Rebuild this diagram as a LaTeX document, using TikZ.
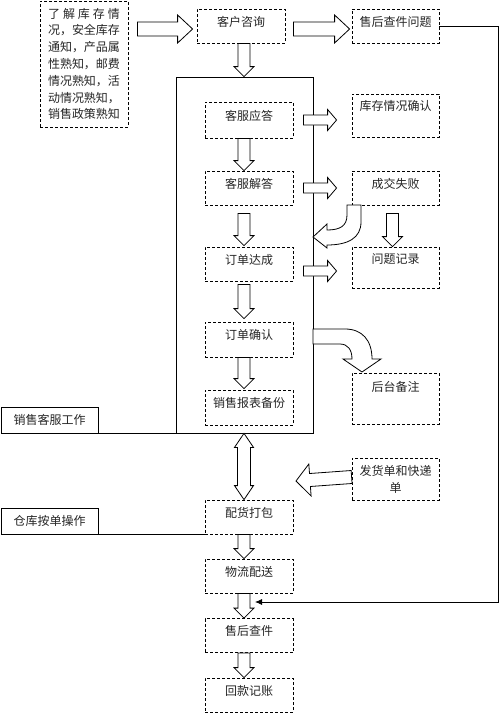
\documentclass[tikz,border=0pt]{standalone}
\usepackage{fontspec}
\newfontfamily\cjk{Noto Sans CJK SC}
\usetikzlibrary{calc,arrows.meta}

\begin{document}
\begin{tikzpicture}[x=1pt,y=-1pt,
    every node/.style={font=\cjk\fontsize{12}{16.8}\selectfont, text=black!85},
    box/.style={draw, line width=0.8pt, inner sep=0pt, minimum width=88pt, minimum height=34pt},
    dbox/.style={box, dash pattern=on 3pt off 2pt, text height=17pt, text depth=17pt},
    blk/.style n args={3}{draw, fill=white, line width=0.8pt,
        to path={let \p1=($(\tikztotarget)!#3!(\tikztostart)$) in
            ($(\tikztostart)!#1!90:(\tikztotarget)$) -- ($(\p1)!#1!-90:(\tikztostart)$)
            -- ($(\p1)!#2!-90:(\tikztostart)$) -- (\tikztotarget)
            -- ($(\p1)!#2!90:(\tikztostart)$) -- ($(\p1)!#1!90:(\tikztostart)$)
            -- ($(\tikztostart)!#1!-90:(\tikztotarget)$) -- cycle}},
    dbl/.style n args={3}{draw, fill=white, line width=0.8pt,
        to path={let \p1=($(\tikztotarget)!#3!(\tikztostart)$), \p2=($(\tikztostart)!#3!(\tikztotarget)$) in
            (\tikztostart) -- ($(\p2)!#2!90:(\tikztotarget)$) -- ($(\p2)!#1!90:(\tikztotarget)$)
            -- ($(\p1)!#1!-90:(\tikztostart)$) -- ($(\p1)!#2!-90:(\tikztostart)$) -- (\tikztotarget)
            -- ($(\p1)!#2!90:(\tikztostart)$) -- ($(\p1)!#1!90:(\tikztostart)$)
            -- ($(\p2)!#1!-90:(\tikztotarget)$) -- ($(\p2)!#2!-90:(\tikztotarget)$) -- cycle}},
    big/.style={blk={7pt}{14pt}{15pt}},
    sml/.style={blk={6pt}{10pt}{10pt}},
    rgt/.style={blk={5pt}{10.5pt}{9pt}},
    curv/.style={draw, fill=white, line width=0.8pt}
]
\path[fill=white] (0,0) rectangle (500,713);

\node[box, minimum width=137pt, minimum height=356pt] (kf) at (244.5,255) {};

\node[box, dash pattern=on 3pt off 2pt, minimum height=126pt, align=left] (lj) at (84,64)
    {\makebox[72pt][s]{了\hfill 解\hfill 库\hfill 存\hfill 情}\\况，安全库存\\通知，产品属\\性熟知，邮费\\情况熟知，活\\动情况熟知，\\销售政策熟知};
\node[dbox] (kh) at (241,26) {客户咨询};
\node[dbox, minimum width=87pt] (shwt) at (395.5,26) {售后查件问题};

\node[dbox, minimum height=36pt] (kfyd) at (249,120) {客服应答};
\node[dbox] (kfjd) at (249,188) {客服解答};
\node[dbox] (ddcd) at (249,264) {订单达成};
\node[dbox, minimum height=35pt] (ddqr) at (249,339.5) {订单确认};
\node[dbox, minimum height=35pt] (xsbb) at (249,407.5) {销售报表备份};

\node[dbox, minimum width=87pt, text height=16pt, text depth=27pt] (kcqr) at (395.5,115.5) {库存情况确认};
\node[dbox, minimum width=87pt] (cjsb) at (395.5,188) {成交失败};
\node[dbox, minimum width=87pt, text height=16pt, text depth=25pt] (wtjl) at (395.5,267.5) {问题记录};
\node[dbox, minimum width=87pt, text height=18pt, text depth=33pt] (htbz) at (395.5,398.5) {后台备注};
\node[box, dash pattern=on 3pt off 2pt, minimum width=87pt, minimum height=42pt, align=center] (fhd) at (395.5,479) {发货单和快递\\单};

\node[box, minimum width=97pt, minimum height=26pt] (xskf) at (49.5,420) {销售客服工作};
\node[box, minimum width=97pt, minimum height=26pt] (ckcz) at (49.5,521) {仓库按单操作};

\node[dbox] (phdb) at (249,517) {配货打包};
\node[dbox] (wlps) at (249,576) {物流配送};
\node[dbox, minimum height=33pt] (shcj) at (249,635.5) {售后查件};
\node[dbox] (hkjz) at (249,695) {回款记账};

\draw[line width=0.8pt] (xskf.south east) -- (kf.south west);
\draw[line width=0.8pt] (ckcz.south east) -- (phdb.south west);

\coordinate (ax) at (244,0);
\coordinate (fb) at (255,602);
\coordinate (fhtip) at (296,481);

\draw[big] ($(lj.east |- kh.west)+(9,3)$) to ($(kh.west)+(-4,3)$);
\draw[big] ($(kh.east)+(8,3)$) to ($(shwt.west)+(-2,3)$);
\draw[sml] (kh.south -| ax) to (kf.north -| ax);
\draw[sml] (kfyd.south -| ax) to (kfjd.north -| ax);
\draw[sml] ($(kfjd.south -| ax)+(0,8)$) to ($(ddcd.north -| ax)+(0,-1)$);
\draw[sml] ($(ddcd.south -| ax)+(0,3)$) to ($(ddqr.north -| ax)+(0,-3)$);
\draw[sml] (ddqr.south -| ax) to ($(xsbb.north -| ax)+(0,-1)$);
\draw[dbl={6.5pt}{9.5pt}{14pt}] (kf.south -| ax) to (phdb.north -| ax);
\draw[sml] (phdb.south -| ax) to (wlps.north -| ax);
\draw[sml] (wlps.south -| ax) to (shcj.north -| ax);
\draw[sml] (shcj.south -| ax) to (hkjz.north -| ax);

\draw[rgt] ($(kfyd -| kf.east)+(-10,0)$) to ($(kcqr.west |- kfyd)+(-15,0)$);
\draw[rgt] ($(kfjd -| kf.east)+(-10,0)$) to ($(cjsb.west |- kfjd)+(-15,0)$);
\draw[rgt] ($(ddcd -| kf.east)+(-10,7)$) to ($(wtjl.west |- ddcd)+(-15,7)$);
\draw[sml] ($(cjsb.south)+(-3,8)$) to ($(wtjl.north)+(-3,0)$);
\draw[blk={6.5pt}{16pt}{14pt}] ($(fhd.west)+(0,-2)$) to (fhtip);

\draw[curv] (361,205) -- (361,222) .. controls (361,238) and (348,245) .. (327,245) -- (327,248)
    -- (313,237) -- (327,224) -- (327,230) .. controls (340,230) and (347,226) .. (347,215) -- (347,205) -- cycle;
\draw[curv] (313,329) -- (345,329) .. controls (362,329) and (372,340) .. (372,359) -- (381,359)
    -- (362,372) -- (343,359) -- (352,359) .. controls (352,350) and (348,344) .. (340,344) -- (313,344) -- cycle;

\draw[line width=0.8pt, -{Latex[length=7pt,width=6pt]}] (shwt.east) -- ++(59,0) |- (fb);
\end{tikzpicture}
\end{document}
